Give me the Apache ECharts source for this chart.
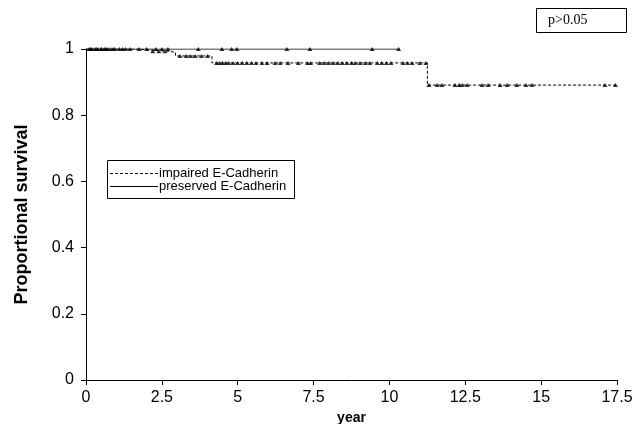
<!DOCTYPE html>
<html>
<head>
<meta charset="utf-8">
<script src="https://cdn.jsdelivr.net/npm/echarts@6/dist/echarts.min.js"></script>
<style>
html,body{margin:0;padding:0;background:#fff;}
#c{width:640px;height:424px;}
</style>
</head>
<body>
<div id="c"></div>
<script>
// Kaplan-Meier step curves (time in years, proportional survival)
var impairedTimes = [0, 1.7, 2.1, 2.75, 2.95, 4.15, 11.25, 17.5];
var impairedSurv  = [1, 0.997, 0.993, 0.99, 0.979, 0.958, 0.891, 0.891];
var preservedTimes = [0, 10.35];
var preservedSurv  = [1, 1];
// censoring times (marks)
var impairedCensor = [0.1,0.2,0.3,0.4,0.5,0.6,0.7,0.9,1.1,1.3,2.2,2.4,2.6,3.1,3.3,3.45,3.6,3.8,4.0,
  4.3,4.4,4.5,4.6,4.7,4.85,5.0,5.15,5.3,5.45,5.6,5.8,5.97,6.23,6.4,6.66,7.0,7.3,7.4,7.7,7.85,8.0,8.15,8.3,
  8.45,8.6,8.75,8.87,9.03,9.2,9.35,9.6,9.75,9.9,10.05,10.45,10.6,10.75,11.0,11.2,
  11.3,11.57,11.73,12.16,12.3,12.4,12.56,13.05,13.25,13.65,13.88,14.2,14.5,14.7,17.1,17.45];
var preservedCensor = [0.15,0.35,0.5,0.65,0.8,0.95,1.2,1.45,1.75,2.0,2.3,2.5,2.7,3.7,4.48,4.8,4.97,6.62,7.38,9.43,10.3];
var xTicks = [0, 2.5, 5, 7.5, 10, 12.5, 15, 17.5];
var yTicks = [0, 0.2, 0.4, 0.6, 0.8, 1];
var legendNames = ['impaired E-Cadherin', 'preserved E-Cadherin'];
var pText = 'p>0.05';

function zip(t, s){ return t.map(function(v,i){ return [v, s[i]]; }); }
function survAt(t, times, surv){
  var v = surv[0];
  for (var i = 0; i < times.length; i++) { if (times[i] <= t) v = surv[i]; }
  return v;
}
function marks(c, times, surv){ return c.map(function(t){ return [t, survAt(t, times, surv)]; }); }

var chart = echarts.init(document.getElementById('c'), null, {renderer:'canvas'});
var font = 'Liberation Sans, Arial, sans-serif';
chart.setOption({
  animation:false,
  backgroundColor:'#fff',
  grid:{left:86, right:23, top:49, bottom:44, containLabel:false, outerBoundsMode:'none'},
  xAxis:{
    type:'value', min:0, max:17.5, interval:2.5,
    name:'year', nameLocation:'middle', nameGap:22,
    nameTextStyle:{fontFamily:font, fontWeight:'bold', fontSize:14, color:'#000'},
    axisLine:{show:true, lineStyle:{color:'#000', width:1}},
    axisTick:{show:true, length:5, lineStyle:{color:'#000'}},
    axisLabel:{fontFamily:font, fontSize:16, color:'#000', margin:10},
    splitLine:{show:false}
  },
  yAxis:{
    type:'value', min:0, max:1, interval:0.2,
    name:'Proportional survival', nameLocation:'middle', nameGap:55,
    nameTextStyle:{fontFamily:font, fontWeight:'bold', fontSize:18, color:'#000'},
    axisLine:{show:true, lineStyle:{color:'#000', width:1}},
    axisTick:{show:true, length:5, lineStyle:{color:'#000'}},
    axisLabel:{fontFamily:font, fontSize:16, color:'#000', margin:12},
    splitLine:{show:false}
  },
  series:[
    {name:legendNames[0], type:'line', step:'end', data:zip(impairedTimes, impairedSurv),
     showSymbol:false, lineStyle:{color:'#000', width:1, type:[3,2]}, z:2},
    {name:legendNames[1], type:'line', step:'end', data:zip(preservedTimes, preservedSurv),
     showSymbol:false, lineStyle:{color:'#000', width:1.2, type:'solid'}, z:3},
    {type:'scatter', data:marks(impairedCensor, impairedTimes, impairedSurv),
     symbol:'triangle', symbolSize:[5,4], itemStyle:{color:'#000'}, z:4},
    {type:'scatter', data:marks(preservedCensor, preservedTimes, preservedSurv),
     symbol:'triangle', symbolSize:[5,4], itemStyle:{color:'#000'}, z:4}
  ],
  graphic:[
    {type:'rect', shape:{x:107.5, y:160.5, width:187, height:38}, style:{fill:'#fff', stroke:'#000', lineWidth:1}},
    {type:'line', shape:{x1:110, y1:173.5, x2:158, y2:173.5}, style:{stroke:'#000', lineWidth:1, lineDash:[3,2]}},
    {type:'line', shape:{x1:110, y1:186.5, x2:158, y2:186.5}, style:{stroke:'#000', lineWidth:1}},
    {type:'text', x:159, y:173.5, style:{text:legendNames[0], font:'13px '+font, fill:'#000', textVerticalAlign:'middle', verticalAlign:'middle'}},
    {type:'text', x:159, y:186.5, style:{text:legendNames[1], font:'13px '+font, fill:'#000', textVerticalAlign:'middle', verticalAlign:'middle'}},
    {type:'rect', shape:{x:536.5, y:8.5, width:90, height:24}, style:{fill:'#fff', stroke:'#000', lineWidth:1}},
    {type:'text', x:548, y:20.5, style:{text:pText, font:'14px Liberation Serif, Times New Roman, serif', fill:'#000', textVerticalAlign:'middle', verticalAlign:'middle'}}
  ]
});
</script>
</body>
</html>
